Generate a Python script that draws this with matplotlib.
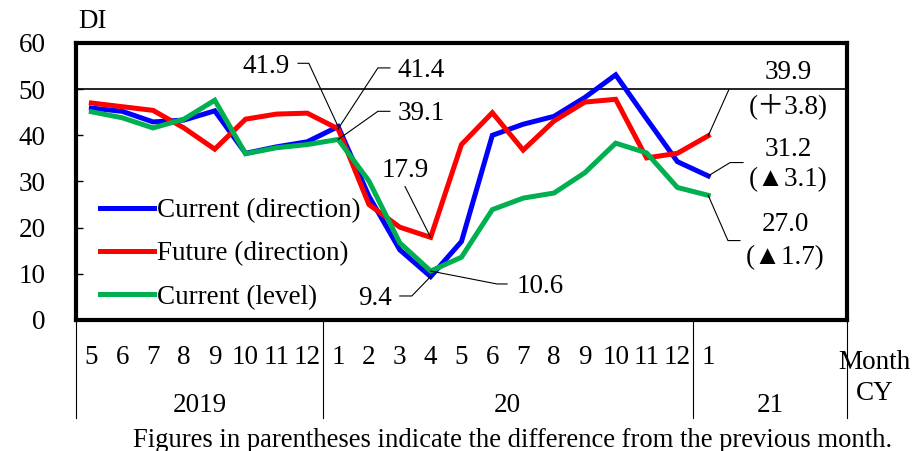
import matplotlib
matplotlib.use('Agg')
import matplotlib.pyplot as plt
from matplotlib.lines import Line2D

plt.rcParams['font.family'] = ['Liberation Serif', 'Noto Sans CJK JP', 'DejaVu Sans']
plt.rcParams['font.size'] = 19.5

# months: 2019/5 .. 2021/1
months = ['5', '6', '7', '8', '9', '10', '11', '12',
          '1', '2', '3', '4', '5', '6', '7', '8', '9', '10', '11', '12',
          '1']
years = ['2019', '20', '21']

current_dir = [45.9, 45.2, 42.9, 43.3, 45.3, 36.1, 37.5, 38.6,
               41.9, 26.8, 15.2, 9.4, 17.0, 40.0, 42.4, 44.1, 48.2, 53.1, 43.6, 34.3,
               31.2]
future_dir = [47.0, 46.2, 45.4, 41.6, 37.0, 43.5, 44.6, 44.8,
              41.4, 25.0, 20.1, 17.9, 38.0, 44.9, 36.8, 43.1, 47.2, 47.8, 35.1, 36.1,
              39.9]
current_lvl = [45.1, 43.8, 41.6, 43.5, 47.6, 36.0, 37.3, 38.0,
               39.1, 30.1, 16.7, 10.6, 13.6, 23.9, 26.4, 27.5, 31.9, 38.3, 36.2, 28.7,
               27.0]

fig = plt.figure(figsize=(9.13, 4.51), dpi=100)
ax = fig.add_axes([0.0832, 0.2905, 0.8445, 0.6142])

x = list(range(len(months)))
ax.plot(x, current_dir, color='#0000FF', lw=3.6, label='Current (direction)', solid_joinstyle='miter')
ax.plot(x, future_dir, color='#FF0000', lw=3.6, label='Future (direction)', solid_joinstyle='miter')
ax.plot(x, current_lvl, color='#00B050', lw=3.6, label='Current (level)', solid_joinstyle='miter')
ax.axhline(50, color='black', lw=1.2, zorder=1)

ax.set_xlim(-0.5, 24.5)
ax.set_ylim(0, 60)
ax.set_yticks([0, 10, 20, 30, 40, 50, 60])
ax.set_xticks([])
ax.tick_params(axis='y', direction='in', length=5, width=1, pad=22)
for s in ax.spines.values():
    s.set_linewidth(3)

# labels with leader lines
def leader(pts):
    ax.plot([p[0] for p in pts], [p[1] for p in pts], color='black', lw=0.8, zorder=5)

leader([(8, 41.9), (7.05, 55.6), (6.70, 55.6)])
ax.text(6.44, 55.0, '41.9', ha='right', va='center')
leader([(8, 41.4), (9.29, 54.6), (9.68, 54.6)])
ax.text(9.94, 54.0, '41.4', ha='left', va='center')
leader([(8, 39.1), (9.29, 45.2), (9.68, 45.2)])
ax.text(9.94, 44.8, '39.1', ha='left', va='center')
leader([(11, 17.9), (10.17, 28.9)])
ax.text(10.17, 32.4, '17.9', ha='center', va='center')
leader([(11, 9.4), (10.39, 5.2), (10.0, 5.2)])
ax.text(9.75, 4.7, '9.4', ha='right', va='center')
leader([(11, 10.6), (13.15, 7.8), (13.48, 7.8)])
ax.text(13.8, 7.2, '10.6', ha='left', va='center')

leader([(20, 39.9), (20.67, 49.9)])
ax.text(22.59, 53.7, '39.9', ha='center', va='center')
ax.text(22.59, 46.3, '(＋3.8)', ha='center', va='center')
leader([(20, 31.2), (20.71, 34.1), (21.13, 34.1)])
ax.text(22.6, 37.0, '31.2', ha='center', va='center')
ax.text(22.6, 30.4, '(▲3.1)', ha='center', va='center')
leader([(20, 27.0), (20.64, 17.2), (21.03, 17.2)])
ax.text(22.5, 20.7, '27.0', ha='center', va='center')
ax.text(22.5, 13.5, '(▲1.7)', ha='center', va='center')

ax.legend(loc='center left', bbox_to_anchor=(0.031, 0.238), frameon=False,
          handlelength=2.0, handletextpad=0.1, labelspacing=0.67,
          borderpad=0, borderaxespad=0)

# month / year axis below
tr = ax.get_xaxis_transform()
for i, m in enumerate(months):
    ax.text(i, -0.134, m, transform=tr, ha='center', va='center')
for xs in [-0.5, 7.5, 19.5, 24.5]:
    ax.add_line(Line2D([xs, xs], [0, -0.354], transform=tr, color='black', lw=0.8, clip_on=False))
for xc, y in zip([3.5, 13.5, 22.0], years):
    ax.text(xc, -0.307, y, transform=tr, ha='center', va='center')

ax.text(1.036, -0.155, 'Month', transform=ax.transAxes, ha='center', va='center')
ax.text(1.036, -0.264, 'CY', transform=ax.transAxes, ha='center', va='center')
ax.text(0.022, 1.076, 'DI', transform=ax.transAxes, ha='center', va='center')
fig.text(0.561, 0.024, 'Figures in parentheses indicate the difference from the previous month.',
         ha='center', va='center', fontsize=19.2)

fig.savefig('out.png', dpi=100)
